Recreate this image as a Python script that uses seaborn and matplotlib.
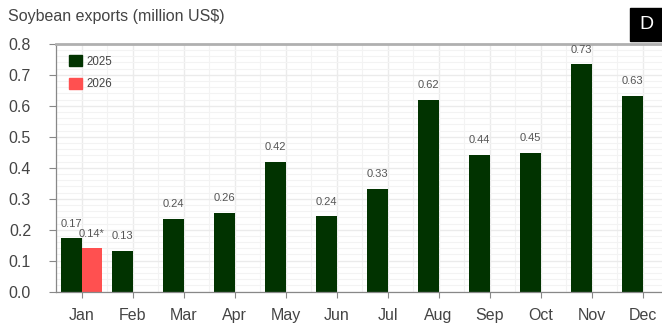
import pandas as pd
import matplotlib.pyplot as plt
import matplotlib.patches as mpatches
from matplotlib.ticker import MultipleLocator
import seaborn as sns

# data
months = ['Jan', 'Feb', 'Mar', 'Apr', 'May', 'Jun', 'Jul', 'Aug', 'Sep', 'Oct', 'Nov', 'Dec']
exports_2025 = [0.172, 0.131, 0.235, 0.255, 0.418, 0.243, 0.331, 0.618, 0.442, 0.448, 0.733, 0.632]
labels_2025 = ['0.17', '0.13', '0.24', '0.26', '0.42', '0.24', '0.33', '0.62', '0.44', '0.45', '0.73', '0.63']
months_2026 = ['Jan']
exports_2026 = [0.14]
labels_2026 = ['0.14*']

df = pd.concat([
    pd.DataFrame({'Month': months, 'Year': '2025', 'Value': exports_2025}),
    pd.DataFrame({'Month': months_2026, 'Year': '2026', 'Value': exports_2026}),
])

dark = '#013300'
red = '#ff5050'
txt = '#444444'

sns.set_style('white')
plt.rcParams['font.family'] = ['Liberation Sans', 'DejaVu Sans']

fig = plt.figure(figsize=(6.62, 3.24), dpi=100)
ax = fig.add_axes([0.0846, 0.0997, 0.9245, 0.7654])

sns.barplot(data=df, x='Month', y='Value', hue='Year', order=months,
            hue_order=['2025', '2026'], palette=[dark, red], width=0.82,
            gap=0, dodge=True, errorbar=None, legend=False, saturation=1,
            linewidth=0, ax=ax, zorder=2)

ax.bar_label(ax.containers[0], labels=labels_2025, padding=7, fontsize=8, color='#555555')
ax.bar_label(ax.containers[1], labels=labels_2026, padding=7, fontsize=8, color='#555555')

ax.set_xlim(-0.5, 11.5)
ax.set_ylim(0, 0.8)
ax.yaxis.set_minor_locator(MultipleLocator(0.02))
ax.xaxis.set_minor_locator(MultipleLocator(0.5))
ax.set_yticks([i / 10 for i in range(9)])
ax.set_yticklabels([f'{i / 10:.1f}' for i in range(9)])
ax.grid(which='major', color='#ebebeb', linewidth=1.0, zorder=0)
ax.grid(which='minor', color='#f3f3f3', linewidth=0.8, zorder=0)
ax.set_axisbelow(True)

ax.set_xlabel('')
ax.set_ylabel('')
ax.tick_params(axis='y', which='major', length=5, width=0.8, color='#888888',
               labelsize=11.5, labelcolor=txt, pad=13, left=True)
ax.tick_params(axis='x', which='major', length=4, width=0.8, color='#888888',
               labelsize=11.5, labelcolor=txt, pad=8, bottom=True)
ax.tick_params(which='minor', length=0)

for s in ['left', 'bottom']:
    ax.spines[s].set_color('#888888')
    ax.spines[s].set_linewidth(0.9)
ax.spines['top'].set_color('#b0b0b0')
ax.spines['top'].set_linewidth(2)
ax.spines['right'].set_visible(False)

handles = [mpatches.Patch(color=dark, label='2025'), mpatches.Patch(color=red, label='2026')]
ax.legend(handles=handles, loc='upper left', bbox_to_anchor=(0.005, 0.995), frameon=False,
          fontsize=8.3, handlelength=1.05, handleheight=1.05, handletextpad=0.45,
          labelspacing=0.9, labelcolor=txt)

fig.text(8 / 662, 1 - 17 / 324, 'Soybean exports (million US$)', fontsize=11.5,
         color=txt, va='center', ha='left')
fig.patches.append(mpatches.Rectangle((630 / 662, 1 - 41 / 324), 32 / 662, 33 / 324,
                                      transform=fig.transFigure, color='black'))
fig.text(646 / 662, 1 - 24.5 / 324, 'D', fontsize=14, color='white', ha='center', va='center')

plt.savefig('out.png', dpi=100)
